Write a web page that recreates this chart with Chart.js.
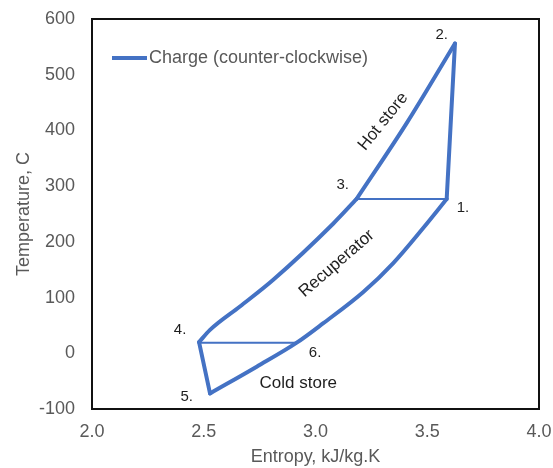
<!DOCTYPE html>
<html>
<head>
<meta charset="utf-8">
<script src="https://cdn.jsdelivr.net/npm/chart.js@4/dist/chart.umd.min.js"></script>
<style>
  html, body { margin: 0; padding: 0; background: #fff; }
  #wrap { width: 553px; height: 468px; }
</style>
</head>
<body>
<div id="wrap"><canvas id="ts"></canvas></div>
<script>
// T-s diagram, charge cycle. Entropy kJ/kg.K, temperature C.
const seriesName = "Charge (counter-clockwise)";

// 1 -> 2 compression
const compS = [3.587, 3.624];
const compT = [277, 556];
// 3 -> 2 hot store (drawn low to high entropy)
const hotS = [3.184, 3.408, 3.624];
const hotT = [277, 413, 556];
// 4 -> 3 recuperator, hot side
const recHotS = [2.479, 2.528, 2.662, 2.811, 3.080, 3.184];
const recHotT = [20, 42, 84, 132, 233, 277];
// 4 -> 5 expansion
const expS = [2.479, 2.528];
const expT = [20, -72];
// 5 -> 6 -> 1 cold store then recuperator, cold side
const coldS = [2.528, 2.737, 2.916, 3.035, 3.214, 3.348, 3.482, 3.587];
const coldT = [-72, -24, 19, 54, 110, 162, 225, 277];
// heat exchange links 3-1 and 4-6
const linkHotS = [3.184, 3.587];
const linkHotT = [277, 277];
const linkColdS = [2.479, 2.916];
const linkColdT = [19, 19];

const xTicks = [2.0, 2.5, 3.0, 3.5, 4.0];
const yTicks = [-100, 0, 100, 200, 300, 400, 500, 600];

// state point and process labels (anchored in data units)
const pointNames = ["1.", "2.", "3.", "4.", "5.", "6."];
const pointS = [3.660, 3.565, 3.122, 2.394, 2.424, 2.998];
const pointT = [261, 571, 302, 42, -78, 0];
const noteNames = ["Hot store", "Recuperator", "Cold store"];
const noteS = [3.303, 3.095, 2.923];
const noteT = [416, 161, -54];
const noteAngle = [-51, -41, 0];

const blue = "#4472C4";
const grey = "#595959";

function pts(xs, ys) {
  return xs.map((v, i) => ({ x: v, y: ys[i] }));
}

function line(data, width, smooth) {
  return {
    label: seriesName,
    data: data,
    showLine: true,
    borderColor: blue,
    backgroundColor: blue,
    borderWidth: width,
    borderCapStyle: "round",
    borderJoinStyle: "round",
    pointRadius: 0,
    cubicInterpolationMode: smooth ? "monotone" : "default",
    tension: 0
  };
}

const decor = {
  id: "decor",
  afterDatasetsDraw(chart) {
    const { ctx, chartArea, scales } = chart;
    const sx = scales.x, sy = scales.y;
    ctx.save();

    // plot frame
    ctx.strokeStyle = "#111";
    ctx.lineWidth = 2;
    ctx.strokeRect(chartArea.left, chartArea.top, chartArea.width, chartArea.height);

    // legend inside the plot
    const lx = chartArea.left + 20, ly = chartArea.top + 39;
    ctx.strokeStyle = blue;
    ctx.lineWidth = 4;
    ctx.beginPath();
    ctx.moveTo(lx, ly);
    ctx.lineTo(lx + 35, ly);
    ctx.stroke();
    ctx.fillStyle = grey;
    ctx.font = "18px 'Liberation Sans', Arial, sans-serif";
    ctx.textAlign = "left";
    ctx.textBaseline = "middle";
    ctx.fillText(seriesName, lx + 37, ly);

    // labels
    ctx.fillStyle = "#1e1e1e";
    ctx.textAlign = "center";
    ctx.font = "15px 'Liberation Sans', Arial, sans-serif";
    pointNames.forEach((t, i) => {
      ctx.fillText(t, sx.getPixelForValue(pointS[i]), sy.getPixelForValue(pointT[i]));
    });
    ctx.font = "17px 'Liberation Sans', Arial, sans-serif";
    noteNames.forEach((t, i) => {
      ctx.save();
      ctx.translate(sx.getPixelForValue(noteS[i]), sy.getPixelForValue(noteT[i]));
      ctx.rotate(noteAngle[i] * Math.PI / 180);
      ctx.fillText(t, 0, 0);
      ctx.restore();
    });
    ctx.restore();
  }
};

Chart.defaults.font.family = "'Liberation Sans', Arial, sans-serif";
Chart.defaults.font.size = 18;
Chart.defaults.color = grey;

new Chart(document.getElementById("ts"), {
  type: "scatter",
  data: {
    datasets: [
      line(pts(compS, compT), 4, false),
      line(pts(hotS, hotT), 4, true),
      line(pts(recHotS, recHotT), 4, true),
      line(pts(expS, expT), 4, false),
      line(pts(coldS, coldT), 4, true),
      line(pts(linkHotS, linkHotT), 2, false),
      line(pts(linkColdS, linkColdT), 2, false)
    ]
  },
  options: {
    responsive: true,
    maintainAspectRatio: false,
    animation: false,
    layout: { padding: { top: 19, right: 14, left: 0, bottom: 0 } },
    plugins: { legend: { display: false }, tooltip: { enabled: false } },
    scales: {
      x: {
        type: "linear",
        min: 2,
        max: 4,
        afterFit(scale) {
          scale.height = 59;
          scale.paddingLeft = 0;
          scale.paddingRight = 0;
        },
        afterBuildTicks(scale) { scale.ticks = xTicks.map((v) => ({ value: v })); },
        ticks: { padding: 12, color: grey, callback: (v) => Number(v).toFixed(1) },
        grid: { display: false, drawTicks: false },
        border: { display: false },
        title: { display: true, text: "Entropy, kJ/kg.K", color: grey, padding: { top: 0, bottom: 0 } }
      },
      y: {
        type: "linear",
        min: -100,
        max: 600,
        afterFit(scale) {
          scale.width = 92;
          scale.paddingTop = 0;
          scale.paddingBottom = 0;
        },
        afterBuildTicks(scale) { scale.ticks = yTicks.map((v) => ({ value: v })); },
        ticks: { padding: 17, color: grey },
        grid: { display: false, drawTicks: false },
        border: { display: false },
        title: { display: true, text: "Temperature, C", color: grey, padding: { top: 13, bottom: 0 } }
      }
    }
  },
  plugins: [decor]
});
</script>
</body>
</html>
